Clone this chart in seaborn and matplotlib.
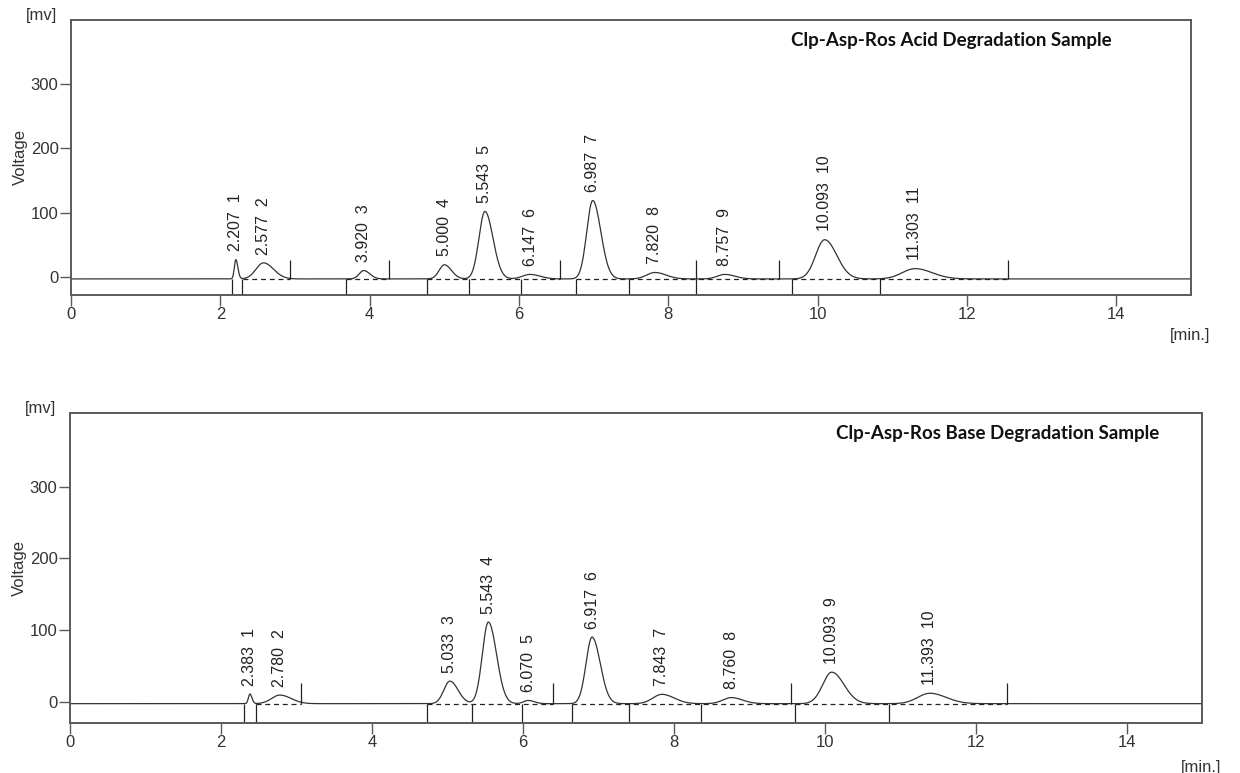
import matplotlib.pyplot as plt
import numpy as np
import pandas as pd
import seaborn as sns

# peak tables (retention time [min], apex [mV], width [min])
acid_rt = [2.207, 2.577, 3.920, 5.000, 5.543, 6.147, 6.987, 7.820, 8.757, 10.093, 11.303]
acid_apex = [27, 22, 10, 19, 102, 4, 119, 7, 4, 58, 13]
acid_width = [0.02, 0.10, 0.06, 0.07, 0.08, 0.10, 0.08, 0.11, 0.10, 0.12, 0.17]
acid_cuts = [2.15, 2.295, 3.68, 4.77, 5.335, 6.03, 6.757, 7.47, 8.366, 9.65, 10.84]
acid_ends = [2.927, 4.26, 6.555, 8.366, 9.476, 12.545]
acid_spans = [(2.30, 2.927), (3.68, 4.26), (4.77, 6.555), (6.757, 9.476), (9.65, 12.545)]

base_rt = [2.383, 2.780, 5.033, 5.543, 6.070, 6.917, 7.843, 8.760, 10.093, 11.393]
base_apex = [10.5, 9, 28.5, 111, 1.5, 90, 10, 5.5, 41, 11.5]
base_width = [0.02, 0.11, 0.08, 0.08, 0.06, 0.08, 0.12, 0.11, 0.12, 0.16]
base_cuts = [2.311, 2.468, 4.727, 5.323, 5.992, 6.651, 7.40, 8.36, 9.60, 10.85]
base_ends = [3.054, 6.40, 9.55, 12.41]
base_spans = [(2.47, 3.054), (4.727, 6.40), (6.651, 9.55), (9.60, 12.41)]

titles = ["Clp-Asp-Ros Acid Degradation Sample", "Clp-Asp-Ros Base Degradation Sample"]

BASELINE = -3.0
INK = "#333333"
FRAME = "#5a5a5a"


def trace(rt, apex, width):
    t = np.linspace(0, 15, 3001)
    y = np.full_like(t, BASELINE)
    for r, a, w in zip(rt, apex, width):
        # slight tailing on the right side of each peak
        s = np.where(t < r, w, w * 1.35)
        y += (a - BASELINE) * np.exp(-0.5 * ((t - r) / s) ** 2)
    return pd.DataFrame({"time": t, "voltage": y})


def draw(ax, rt, apex, width, cuts, ends, spans, title, ylim, title_x, title_y):
    df = trace(rt, apex, width)
    sns.lineplot(data=df, x="time", y="voltage", ax=ax, color=INK, linewidth=0.9,
                 estimator=None, sort=False)
    for x0, x1 in spans:
        ax.hlines(BASELINE, x0, x1, colors="#222222", linestyles=(0, (4, 3)), linewidth=0.9)
    ax.vlines(cuts, ylim[0], BASELINE, colors="#222222", linewidth=0.9)
    ax.vlines(ends, BASELINE, 26, colors="#222222", linewidth=0.9)

    for i, (r, a) in enumerate(zip(rt, apex), start=1):
        ax.annotate(f"{r:.3f}  {i}", (r, a), xytext=(0, 6), textcoords="offset points",
                    rotation=90, ha="center", va="bottom", fontsize=11.5, color="#222222")

    ax.set_xlim(0, 15)
    ax.set_ylim(*ylim)
    ax.set_xticks([0, 2, 4, 6, 8, 10, 12, 14])
    ax.set_yticks([0, 100, 200, 300])
    ax.tick_params(axis="both", direction="out", length=8, width=1, color=FRAME,
                   labelsize=12, labelcolor="#333333", pad=1, bottom=True, left=True)
    ax.set_xlabel("")
    ax.set_ylabel("Voltage", fontsize=12, color="#333333", labelpad=2)
    for sp in ax.spines.values():
        sp.set_color(FRAME)
        sp.set_linewidth(1.4)

    ax.text(-0.012, 0.99, "[mv]", transform=ax.transAxes, ha="right", va="bottom",
            fontsize=12, color="#333333")
    ax.text(1.017, -0.12, "[min.]", transform=ax.transAxes, ha="right", va="top",
            fontsize=12, color="#333333")
    ax.text(title_x, title_y, title, transform=ax.transAxes, ha="center", va="center",
            fontsize=13.5, fontweight="bold", family="Lato", color="#111111")


sns.set_style("white")
plt.rcParams["font.family"] = ["Liberation Sans", "DejaVu Sans"]

fig = plt.figure(figsize=(12.4, 7.73), dpi=100)
ax_top = fig.add_axes([0.0573, 0.6184, 0.9032, 0.3558])
ax_bot = fig.add_axes([0.0565, 0.0647, 0.9129, 0.4010])

draw(ax_top, acid_rt, acid_apex, acid_width, acid_cuts, acid_ends, acid_spans,
     titles[0], (-28, 400), 0.786, 0.927)
draw(ax_bot, base_rt, base_apex, base_width, base_cuts, base_ends, base_spans,
     titles[1], (-30, 403), 0.819, 0.935)

fig.savefig("out.png", dpi=100)
